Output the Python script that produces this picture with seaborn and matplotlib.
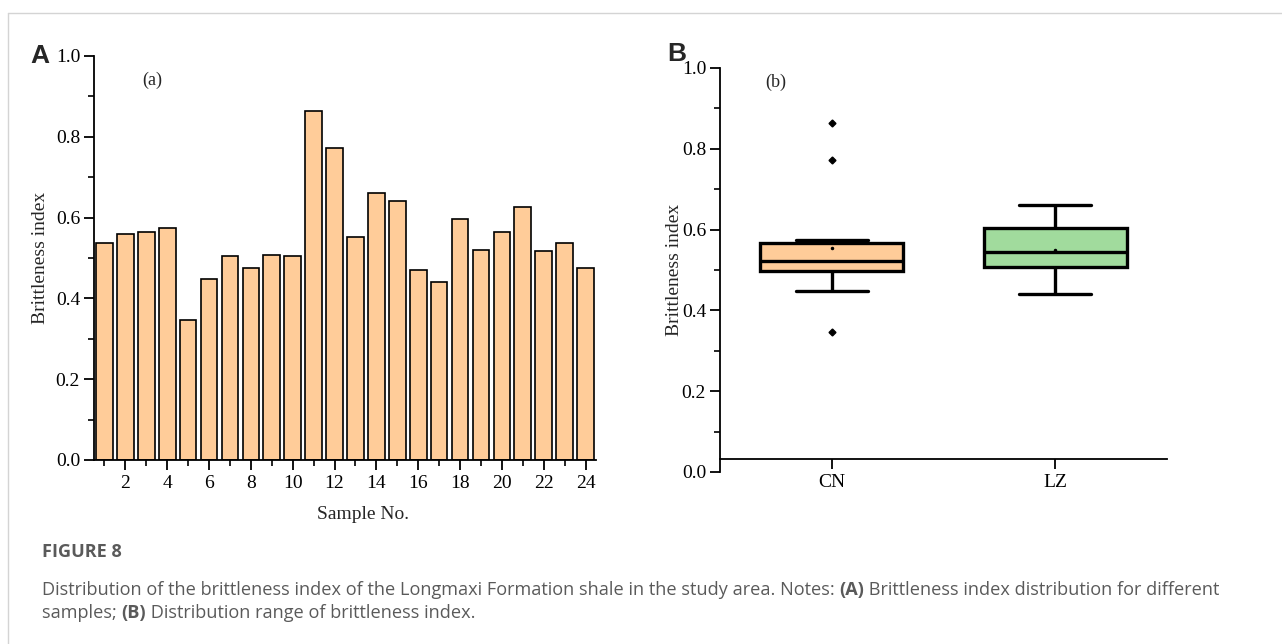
import numpy as np
import pandas as pd
import matplotlib as mpl
mpl.use('Agg')
import matplotlib.pyplot as plt
import seaborn as sns
from matplotlib.ticker import MultipleLocator
from matplotlib.lines import Line2D

# brittleness index of each sample
sample_no = np.arange(1, 25)
brittleness = [0.537, 0.559, 0.564, 0.574, 0.347, 0.448, 0.505, 0.475, 0.507, 0.505, 0.865, 0.772,
               0.552, 0.662, 0.641, 0.470, 0.441, 0.597, 0.520, 0.564, 0.627, 0.517, 0.537, 0.475]
# samples 1-12 -> CN, 13-24 -> LZ
groups = ["CN"] * 12 + ["LZ"] * 12
group_names = ["CN", "LZ"]

peach = "#FFCC99"
green = "#A1DB9D"

sns.set_theme(style="ticks")
plt.rcParams['font.family'] = ['Liberation Serif', 'DejaVu Serif']

W, H = 1282, 644
fig = plt.figure(figsize=(W / 100, H / 100), dpi=100)

##### (a) bar chart
ax1 = fig.add_axes([94 / W, 184 / H, 502 / W, 404 / H])
sns.barplot(x=sample_no, y=brittleness, native_scale=True, color=peach, saturation=1,
            edgecolor="black", linewidth=1.2, width=0.8, ax=ax1)
ax1.set_xlim(0.5, 24.5)
ax1.set_ylim(0, 1.0)
ax1.xaxis.set_major_locator(MultipleLocator(2))
ax1.xaxis.set_minor_locator(MultipleLocator(1))
ax1.yaxis.set_major_locator(MultipleLocator(0.2))
ax1.yaxis.set_minor_locator(MultipleLocator(0.1))
ax1.yaxis.set_major_formatter(mpl.ticker.FormatStrFormatter('%.1f'))
ax1.set_xlabel("Sample No.", fontsize=14)
ax1.set_ylabel("Brittleness index", fontsize=14)
ax1.xaxis.set_label_coords(0.536, -0.115)
ax1.yaxis.set_label_coords(-0.09, 0.5)
ax1.text(3.3, 0.94, "(a)", fontsize=13, ha="center", va="center")

##### (b) box plot
df = pd.DataFrame({"group": groups, "value": brittleness})
ax2 = fig.add_axes([720 / W, 172 / H, 447 / W, 404 / H])
sns.boxplot(data=df, x="group", y="value", hue="group", order=group_names, hue_order=group_names,
            palette=[peach, green], saturation=1, width=0.64, linewidth=2.4, linecolor="black",
            showmeans=True, legend=False,
            meanprops=dict(marker="o", markersize=1.5, markerfacecolor="black", markeredgecolor="black"),
            flierprops=dict(marker="D", markersize=3.5, markerfacecolor="black", markeredgecolor="black"),
            ax=ax2)
ax2.set_xlim(-0.5, 1.5)
ax2.set_ylim(0, 1.0)
ax2.yaxis.set_major_locator(MultipleLocator(0.2))
ax2.yaxis.set_minor_locator(MultipleLocator(0.1))
ax2.yaxis.set_major_formatter(mpl.ticker.FormatStrFormatter('%.1f'))
ax2.spines['bottom'].set_position(('data', 0.031))
ax2.set_xlabel("")
ax2.set_ylabel("Brittleness index", fontsize=14)
ax2.yaxis.set_label_coords(-0.082, 0.5)
ax2.text(-0.25, 0.965, "(b)", fontsize=13, ha="center", va="center")

for ax in (ax1, ax2):
    sns.despine(ax=ax)
    for s in ("left", "bottom"):
        ax.spines[s].set_linewidth(1.3)
        ax.spines[s].set_color("black")
    ax.tick_params(which="major", direction="out", length=7, width=1.3, labelsize=14, colors="black")
    ax.tick_params(which="minor", direction="out", length=4, width=1.2, colors="black")
    ax.tick_params(axis="y", which="major", pad=3)
ax2.tick_params(axis="x", which="minor", length=0)

##### panel letters
fig.text(40 / W, 1 - 56 / H, "A", family="Liberation Sans", fontweight="bold", fontsize=19,
         ha="center", va="center")
fig.text(677 / W, 1 - 54 / H, "B", family="Liberation Sans", fontweight="bold", fontsize=19,
         ha="center", va="center")

##### frame lines
fig.add_artist(Line2D([8 / W, 1], [1 - 13 / H, 1 - 13 / H], color="#d4d4d4", lw=1))
fig.add_artist(Line2D([8 / W, 8 / W], [0, 1 - 13 / H], color="#d4d4d4", lw=1))

##### caption
cap_kw = dict(family=["Open Sans", "DejaVu Sans"], fontsize=13.1, color="#5a5a5a", va="baseline")
fig.text(42 / W, 1 - 557 / H, "FIGURE 8", fontweight="bold", **cap_kw)

renderer = fig.canvas.get_renderer()


def rich_line(x_px, y_px, parts):
    x = x_px / W
    for txt, bold in parts:
        t = fig.text(x, 1 - y_px / H, txt, fontweight="bold" if bold else "normal", **cap_kw)
        bb = t.get_window_extent(renderer=renderer)
        x = bb.x1 / W


rich_line(42, 595, [("Distribution of the brittleness index of the Longmaxi Formation shale in the study area. Notes: ", False),
                    ("(A)", True), (" Brittleness index distribution for different", False)])
rich_line(42, 618, [("samples; ", False), ("(B)", True), (" Distribution range of brittleness index.", False)])

fig.savefig("out.png", dpi=100)
